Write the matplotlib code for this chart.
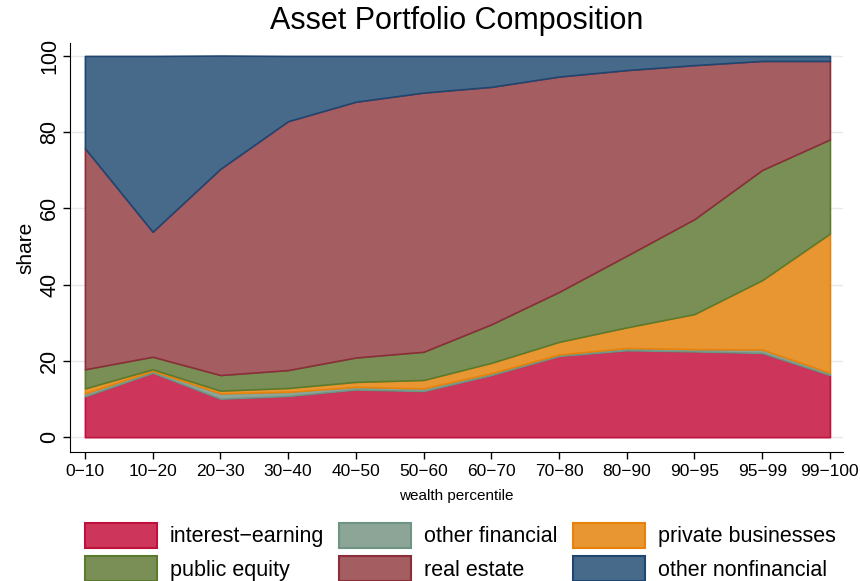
import matplotlib.pyplot as plt
from matplotlib.patches import Patch
import numpy as np

# data (shares, percent)
percentiles = ['0−10', '10−20', '20−30', '30−40', '40−50', '50−60',
               '60−70', '70−80', '80−90', '90−95', '95−99', '99−100']
interest_earning = [10.7, 16.9, 10.1, 10.8, 12.5, 12.1, 16.3, 21.3, 22.8, 22.5, 22.1, 16.3]
other_financial = [0.8, 0.5, 1.4, 1.1, 0.7, 0.7, 0.5, 0.4, 0.6, 0.6, 0.9, 0.6]
private_businesses = [1.3, 0.4, 0.7, 1.0, 1.3, 2.2, 2.7, 3.3, 5.4, 9.2, 18.2, 36.5]
public_equity = [5.0, 3.3, 4.1, 4.7, 6.4, 7.4, 10.1, 13.1, 18.8, 24.9, 28.9, 24.7]
real_estate = [58.0, 32.8, 54.1, 65.3, 67.1, 68.0, 62.3, 56.5, 48.7, 40.4, 28.6, 20.6]
other_nonfinancial = [24.2, 46.1, 29.7, 17.1, 12.0, 9.6, 8.1, 5.4, 3.7, 2.4, 1.3, 1.3]

labels = ['interest−earning', 'other financial', 'private businesses',
          'public equity', 'real estate', 'other nonfinancial']
fills = ['#cd365a', '#8ca597', '#e89632', '#7a8f55', '#a45d60', '#486a8a']
edges = ['#c0103c', '#6f9484', '#e8820a', '#5a7a2e', '#8b2e3a', '#1f4670']

plt.rcParams['font.family'] = ['Liberation Sans', 'DejaVu Sans']

fig = plt.figure(figsize=(8.6, 5.81), dpi=100)
ax = fig.add_axes([0.0814, 0.222, 0.8986, 0.704])

x = np.arange(len(percentiles))
series = [interest_earning, other_financial, private_businesses,
          public_equity, real_estate, other_nonfinancial]
polys = ax.stackplot(x, *series, colors=fills)
for p, ec in zip(polys, edges):
    p.set_edgecolor(ec)
    p.set_linewidth(1.2)

ax.set_xlim(-0.22, 11.19)
ax.set_ylim(-3.9, 103.4)
ax.set_xticks(x)
ax.set_xticklabels(percentiles, fontsize=12.5)
ax.set_yticks([0, 20, 40, 60, 80, 100])
ax.set_yticklabels(['0', '20', '40', '60', '80', '100'], fontsize=15.5,
                   rotation=90, va='center')
ax.tick_params(direction='out', length=5, width=1)
ax.tick_params(axis='y', pad=2)
ax.grid(axis='y', color='#e8e8e8', linewidth=1)
ax.set_axisbelow(True)
for s in ['top', 'right']:
    ax.spines[s].set_visible(False)
ax.set_ylabel('share', fontsize=15, labelpad=3)
ax.set_xlabel('wealth percentile', fontsize=11, labelpad=7)
ax.set_title('Asset Portfolio Composition', fontsize=22, pad=10)

# legend filled row by row as in the original
order = [0, 3, 1, 4, 2, 5]
handles = [Patch(facecolor=fills[i], edgecolor=edges[i], linewidth=1.5) for i in order]
fig.legend(handles, [labels[i] for i in order], ncol=3, loc='lower center',
           bbox_to_anchor=(0.535, -0.03), frameon=False, fontsize=15.5,
           handlelength=3.35, handleheight=1.45, handletextpad=0.6,
           columnspacing=0.7, labelspacing=0.35, borderpad=0.3)

fig.savefig('out.png', dpi=100)
